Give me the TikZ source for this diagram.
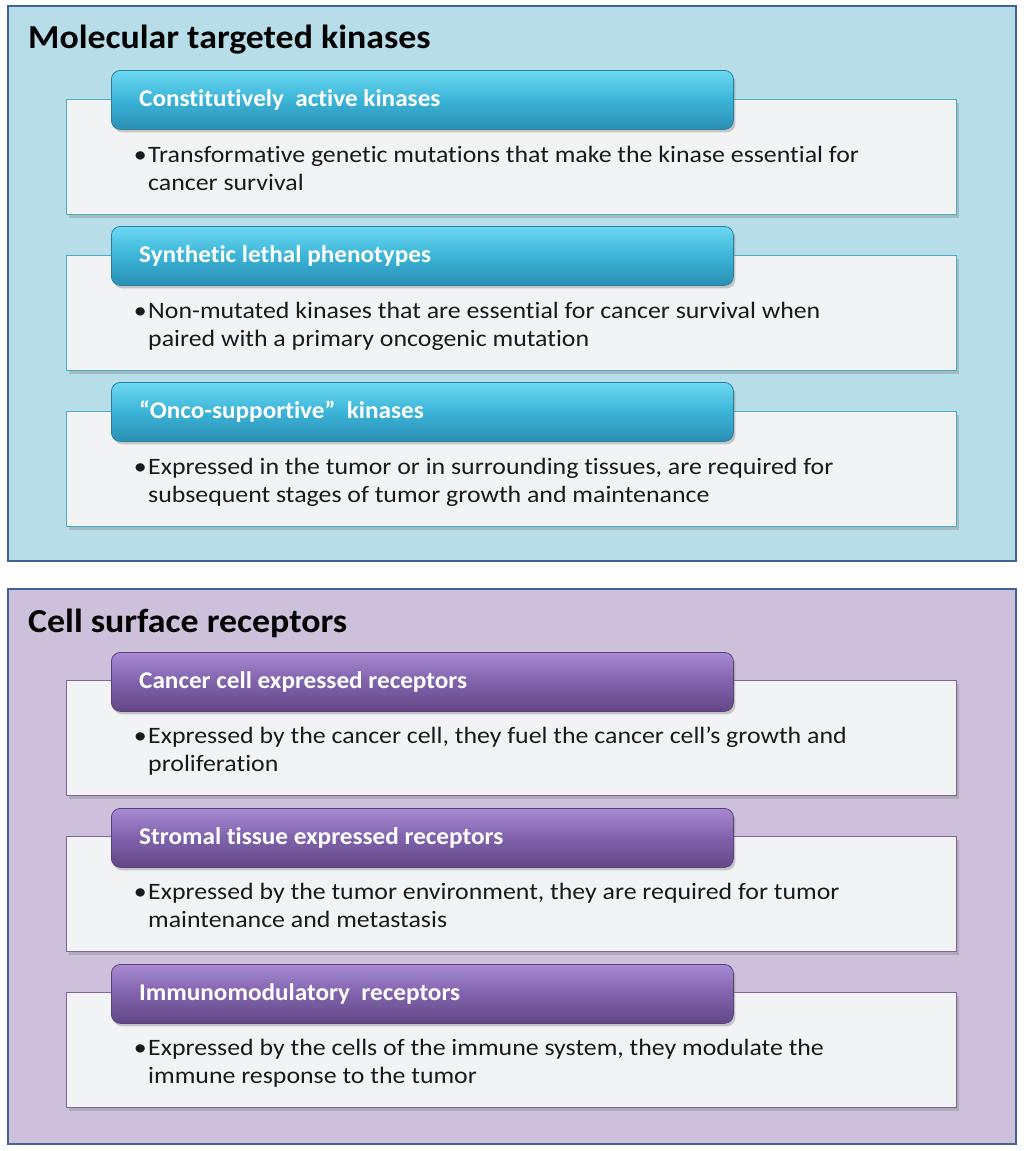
\documentclass[tikz,border=0pt]{standalone}
\usepackage{fontspec}
\setmainfont{Carlito}[Ligatures={NoCommon}]
\newfontfamily\titlefont[FakeStretch=1.07,Ligatures={NoCommon}]{Carlito}
\newfontfamily\hdrfont[FakeStretch=1.05,Ligatures={NoCommon}]{Carlito}
\newfontfamily\bodyfont[FakeStretch=1.10,Ligatures={NoCommon}]{Carlito}
\usetikzlibrary{shadows}
\definecolor{panelA}{HTML}{B7DDE8}
\definecolor{panelB}{HTML}{CCC0DA}
\definecolor{panelEdge}{HTML}{3F6396}
\definecolor{boxFill}{HTML}{F1F3F5}
\definecolor{edgeA}{HTML}{4BACC6}
\definecolor{edgeB}{HTML}{8064A2}
\definecolor{hdrAtop}{HTML}{6CD8F2}
\definecolor{hdrAmid}{HTML}{3BB4D8}
\definecolor{hdrAbot}{HTML}{2B8FB3}
\definecolor{hdrAedge}{HTML}{2A7FA0}
\definecolor{hdrBtop}{HTML}{A88AD2}
\definecolor{hdrBmid}{HTML}{8062AC}
\definecolor{hdrBbot}{HTML}{634785}
\definecolor{hdrBedge}{HTML}{5A4080}
\definecolor{bodyText}{HTML}{1A1A1A}
\tikzset{
  panel/.style={draw=panelEdge, line width=1.6pt, anchor=north west, inner sep=0pt,
    minimum width=1008pt, minimum height=555pt},
  itembox/.style={draw=#1, line width=1.3pt, fill=boxFill, anchor=north west, inner sep=0pt,
    minimum width=890pt, minimum height=115pt,
    drop shadow={opacity=0.35, shadow xshift=2pt, shadow yshift=-3pt}},
  hdrA/.style={rounded corners=9pt, anchor=north west, inner sep=0pt,
    minimum width=622pt, minimum height=59pt, draw=hdrAedge, line width=0.8pt,
    top color=hdrAtop, bottom color=hdrAbot, middle color=hdrAmid,
    drop shadow={opacity=0.4, shadow xshift=2pt, shadow yshift=-3pt}},
  hdrB/.style={rounded corners=9pt, anchor=north west, inner sep=0pt,
    minimum width=622pt, minimum height=59pt, draw=hdrBedge, line width=0.8pt,
    top color=hdrBtop, bottom color=hdrBbot, middle color=hdrBmid,
    drop shadow={opacity=0.4, shadow xshift=2pt, shadow yshift=-3pt}},
  titletext/.style={anchor=base west, inner sep=0pt, font=\titlefont\fontsize{33.5}{38}\selectfont\bfseries},
  hdrtext/.style={anchor=base west, inner sep=0pt, text=white, font=\hdrfont\fontsize{24}{28}\selectfont\bfseries},
  bodytext/.style={anchor=base west, inner sep=0pt, text=bodyText, font=\bodyfont\fontsize{23.5}{28}\selectfont},
}
\newcommand{\bodypar}[1]{\parbox[t]{820pt}{\raggedright\leavevmode\llap{\textbullet\hspace{1.5pt}}#1}}
\begin{document}
\begin{tikzpicture}[x=1pt,y=-1pt]
\useasboundingbox (0,0) rectangle (1024,1151);
\fill[white] (0,0) rectangle (1024,1151);
% ---------- top panel
\node[panel, fill=panelA] (p1) at (7,5) {};
\node[titletext] (t1) at (28,48) {Molecular targeted kinases};
\node[itembox=edgeA] (a1) at (66,99) {};
\node[hdrA] (ha1) at (111,70) {};
\node[hdrtext] (hta1) at (139,106) {Constitutively\ \ active kinases};
\node[bodytext] (ba1) at (148,162) {\bodypar{Transformative genetic mutations that make the kinase essential for\\cancer survival}};
\node[itembox=edgeA] (a2) at (66,255) {};
\node[hdrA] (ha2) at (111,226) {};
\node[hdrtext] (hta2) at (139,262) {Synthetic lethal phenotypes};
\node[bodytext] (ba2) at (148,318) {\bodypar{Non-mutated kinases that are essential for cancer survival when\\paired with a primary oncogenic mutation}};
\node[itembox=edgeA] (a3) at (66,411) {};
\node[hdrA] (ha3) at (111,382) {};
\node[hdrtext] (hta3) at (139,418) {“Onco-supportive”\ \ kinases};
\node[bodytext] (ba3) at (148,474) {\bodypar{Expressed in the tumor or in surrounding tissues, are required for\\subsequent stages of tumor growth and maintenance}};
% ---------- bottom panel
\node[panel, fill=panelB] (p2) at (7,588) {};
\node[titletext] (t2) at (28,632) {Cell surface receptors};
\node[itembox=edgeB] (b1) at (66,680) {};
\node[hdrB] (hb1) at (111,652) {};
\node[hdrtext] (htb1) at (139,688) {Cancer cell expressed receptors};
\node[bodytext] (bb1) at (148,743) {\bodypar{Expressed by the cancer cell, they fuel the cancer cell’s growth and\\proliferation}};
\node[itembox=edgeB] (b2) at (66,836) {};
\node[hdrB] (hb2) at (111,808) {};
\node[hdrtext] (htb2) at (139,844) {Stromal tissue expressed receptors};
\node[bodytext] (bb2) at (148,899) {\bodypar{Expressed by the tumor environment, they are required for tumor\\maintenance and metastasis}};
\node[itembox=edgeB] (b3) at (66,992) {};
\node[hdrB] (hb3) at (111,964) {};
\node[hdrtext] (htb3) at (139,1000) {Immunomodulatory\ \ receptors};
\node[bodytext] (bb3) at (148,1055) {\bodypar{Expressed by the cells of the immune system, they modulate the\\immune response to the tumor}};
\end{tikzpicture}
\end{document}
